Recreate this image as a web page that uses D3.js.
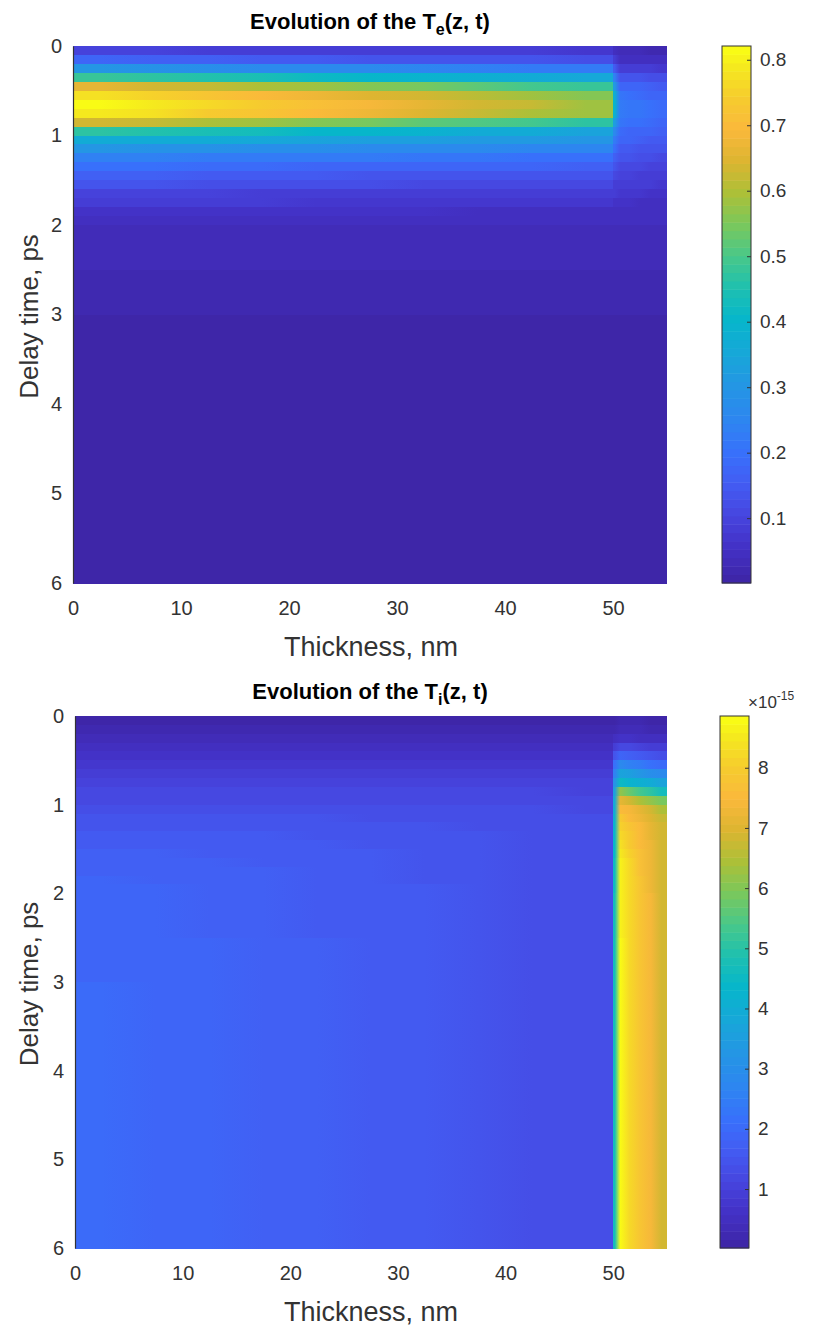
<!DOCTYPE html>
<html>
<head>
<meta charset="utf-8">
<script src="https://cdn.jsdelivr.net/npm/d3@7"></script>
<style>
  body { margin: 0; background: #fff; }
  text { font-family: "Liberation Sans", Arial, Helvetica, sans-serif; fill: #262626; }
</style>
</head>
<body>
<div id="vis"></div>
<script>
// time row edges (ps) and thickness column edges (nm)
var tEdges = [0, 0.1, 0.2, 0.3, 0.4, 0.5, 0.6, 0.7, 0.8, 0.9, 1.0, 1.1, 1.2, 1.3, 1.4, 1.5, 1.6, 1.7, 1.8, 1.9, 2.0, 2.5, 3, 4, 5, 6];
var zEdges = [0, 5, 10, 15, 20, 25, 30, 35, 40, 45, 50, 50.3, 51, 52, 53, 54, 55];
var layerEdge = 50;   // film / substrate interface

// electron temperature, one row per time slab
var teGrid = [
  [0.10,0.10,0.09,0.09,0.09,0.09,0.08,0.08,0.08,0.07, 0.05,0.03,0.03,0.03,0.02,0.02],
  [0.17,0.16,0.16,0.15,0.15,0.14,0.14,0.13,0.13,0.12, 0.08,0.05,0.05,0.04,0.04,0.04],
  [0.30,0.29,0.28,0.27,0.26,0.26,0.25,0.24,0.23,0.22, 0.15,0.09,0.09,0.08,0.08,0.07],
  [0.48,0.47,0.45,0.44,0.42,0.41,0.39,0.38,0.36,0.35, 0.24,0.14,0.13,0.13,0.12,0.12],
  [0.66,0.64,0.62,0.60,0.58,0.56,0.54,0.52,0.50,0.48, 0.32,0.18,0.17,0.17,0.16,0.15],
  [0.77,0.75,0.72,0.70,0.68,0.65,0.63,0.61,0.59,0.56, 0.38,0.21,0.20,0.19,0.18,0.18],
  [0.81,0.79,0.76,0.74,0.71,0.69,0.66,0.64,0.62,0.59, 0.40,0.22,0.21,0.21,0.20,0.19],
  [0.79,0.77,0.74,0.72,0.70,0.67,0.65,0.62,0.60,0.58, 0.39,0.22,0.21,0.21,0.20,0.19],
  [0.64,0.62,0.60,0.58,0.56,0.54,0.52,0.51,0.49,0.47, 0.33,0.21,0.20,0.20,0.19,0.18],
  [0.47,0.46,0.44,0.43,0.41,0.40,0.39,0.37,0.36,0.34, 0.26,0.19,0.18,0.18,0.17,0.16],
  [0.37,0.36,0.36,0.35,0.34,0.33,0.33,0.32,0.31,0.30, 0.23,0.17,0.17,0.16,0.15,0.15],
  [0.30,0.29,0.29,0.28,0.28,0.27,0.26,0.26,0.25,0.25, 0.20,0.15,0.15,0.14,0.14,0.13],
  [0.24,0.24,0.23,0.23,0.22,0.22,0.21,0.21,0.20,0.20, 0.16,0.13,0.13,0.12,0.12,0.11],
  [0.20,0.20,0.19,0.19,0.18,0.18,0.18,0.17,0.17,0.16, 0.13,0.11,0.11,0.11,0.10,0.10],
  [0.16,0.16,0.15,0.15,0.15,0.14,0.14,0.14,0.13,0.13, 0.11,0.10,0.10,0.09,0.09,0.09],
  [0.13,0.13,0.12,0.12,0.12,0.12,0.11,0.11,0.11,0.11, 0.09,0.08,0.08,0.08,0.08,0.07],
  [0.10,0.10,0.10,0.09,0.09,0.09,0.09,0.09,0.08,0.08, 0.08,0.07,0.07,0.07,0.06,0.06],
  [0.08,0.08,0.08,0.08,0.07,0.07,0.07,0.07,0.07,0.07, 0.06,0.06,0.06,0.05,0.05,0.05],
  [0.06,0.06,0.06,0.06,0.06,0.06,0.06,0.05,0.05,0.05, 0.05,0.05,0.05,0.05,0.04,0.04],
  [0.05,0.05,0.05,0.05,0.05,0.05,0.04,0.04,0.04,0.04, 0.04,0.04,0.04,0.04,0.04,0.04],
  [0.035,0.035,0.035,0.035,0.035,0.035,0.035,0.035,0.035,0.035, 0.03,0.03,0.03,0.03,0.03,0.03],
  [0.02,0.02,0.02,0.02,0.02,0.02,0.02,0.02,0.02,0.02, 0.02,0.02,0.02,0.02,0.02,0.02],
  [0.012,0.012,0.012,0.012,0.012,0.012,0.012,0.012,0.012,0.012, 0.012,0.012,0.012,0.012,0.012,0.012],
  [0.008,0.008,0.008,0.008,0.008,0.008,0.008,0.008,0.008,0.008, 0.008,0.008,0.008,0.008,0.008,0.008],
  [0.005,0.005,0.005,0.005,0.005,0.005,0.005,0.005,0.005,0.005, 0.005,0.005,0.005,0.005,0.005,0.005]
];

// lattice temperature in units of 1e-15
var tiGrid = [
  [0.10,0.10,0.10,0.10,0.10,0.10,0.10,0.10,0.10,0.10, 0.15,0.20,0.18,0.16,0.15,0.14],
  [0.20,0.20,0.20,0.20,0.20,0.20,0.20,0.20,0.20,0.20, 0.25,0.35,0.32,0.30,0.27,0.25],
  [0.35,0.35,0.35,0.35,0.35,0.35,0.35,0.35,0.35,0.35, 0.55,0.65,0.60,0.56,0.52,0.48],
  [0.50,0.50,0.50,0.50,0.50,0.50,0.50,0.50,0.50,0.50, 0.95,1.25,1.15,1.05,0.98,0.90],
  [0.65,0.65,0.65,0.65,0.65,0.65,0.65,0.65,0.65,0.65, 1.50,1.95,1.80,1.65,1.52,1.40],
  [0.80,0.80,0.80,0.80,0.80,0.80,0.80,0.80,0.80,0.80, 2.10,2.80,2.60,2.40,2.20,2.00],
  [0.93,0.93,0.93,0.93,0.93,0.93,0.93,0.93,0.92,0.92, 2.60,3.70,3.50,3.20,3.00,2.80],
  [1.04,1.04,1.04,1.04,1.04,1.04,1.04,1.03,1.03,1.02, 3.10,4.50,4.30,4.10,3.90,3.70],
  [1.15,1.15,1.15,1.15,1.15,1.15,1.14,1.14,1.13,1.12, 3.50,6.20,5.80,5.40,5.00,4.70],
  [1.25,1.25,1.25,1.25,1.25,1.24,1.24,1.23,1.22,1.20, 3.80,7.20,6.90,6.50,6.20,5.90],
  [1.35,1.35,1.35,1.34,1.34,1.33,1.32,1.30,1.28,1.25, 4.00,7.60,7.40,7.10,6.80,6.50],
  [1.44,1.44,1.43,1.42,1.41,1.40,1.38,1.36,1.32,1.28, 4.10,7.90,7.60,7.30,7.00,6.70],
  [1.52,1.51,1.50,1.49,1.47,1.45,1.42,1.39,1.35,1.30, 4.20,8.10,7.80,7.50,7.10,6.80],
  [1.59,1.58,1.56,1.54,1.52,1.49,1.46,1.42,1.37,1.31, 4.30,8.30,7.90,7.60,7.20,6.90],
  [1.65,1.63,1.61,1.58,1.56,1.52,1.48,1.44,1.38,1.31, 4.40,8.40,8.00,7.60,7.30,6.90],
  [1.70,1.68,1.65,1.62,1.59,1.55,1.50,1.45,1.39,1.31, 4.40,8.50,8.10,7.70,7.30,6.90],
  [1.75,1.72,1.69,1.65,1.61,1.57,1.52,1.46,1.39,1.31, 4.50,8.60,8.20,7.70,7.30,6.90],
  [1.79,1.76,1.72,1.68,1.63,1.58,1.53,1.46,1.39,1.31, 4.50,8.60,8.20,7.70,7.30,6.90],
  [1.83,1.79,1.75,1.70,1.65,1.59,1.53,1.47,1.39,1.31, 4.50,8.70,8.20,7.80,7.30,6.90],
  [1.86,1.82,1.77,1.72,1.66,1.60,1.54,1.47,1.39,1.31, 4.50,8.70,8.30,7.80,7.30,6.90],
  [1.90,1.85,1.79,1.73,1.67,1.61,1.54,1.47,1.39,1.31, 4.60,8.70,8.30,7.80,7.40,6.90],
  [1.95,1.89,1.82,1.75,1.69,1.62,1.54,1.47,1.39,1.31, 4.60,8.80,8.30,7.80,7.40,6.90],
  [1.98,1.91,1.84,1.76,1.70,1.62,1.54,1.47,1.39,1.31, 4.60,8.80,8.30,7.80,7.40,6.90],
  [2.00,1.93,1.85,1.77,1.70,1.62,1.54,1.47,1.39,1.31, 4.60,8.80,8.30,7.80,7.40,6.90],
  [2.01,1.93,1.85,1.77,1.70,1.62,1.54,1.47,1.39,1.31, 4.60,8.80,8.30,7.80,7.40,6.90]
];

var xTicks = [0, 10, 20, 30, 40, 50];
var yTicks = [0, 1, 2, 3, 4, 5, 6];
var teLimits = [0.001, 0.821];
var tiLimits = [0.02, 8.86];
var teBarTicks = [0.1, 0.2, 0.3, 0.4, 0.5, 0.6, 0.7, 0.8];
var tiBarTicks = [1, 2, 3, 4, 5, 6, 7, 8];

// parula-like colour stops
var parulaPos = [0, 0.06, 0.12, 0.18, 0.24, 0.30, 0.365, 0.43, 0.49, 0.55, 0.61, 0.67, 0.73, 0.79, 0.85, 0.91, 0.97, 1];
var parulaCol = ["#3e26a8", "#4331c6", "#4645df", "#435cf3", "#3871fb", "#2d86f0", "#2496e4", "#16a8d8", "#06b6cb",
                 "#1ec0b0", "#48c88a", "#7ac85c", "#acc038", "#dcb530", "#fab83c", "#f6cc2e", "#f5ea1e", "#f9fb15"];
var parula = d3.scaleLinear().domain(parulaPos).range(parulaCol).interpolate(d3.interpolateRgb);
var nLevels = 64;

function levelColor(v, lim) {
  var k = Math.floor((v - lim[0]) / (lim[1] - lim[0]) * nLevels);
  k = Math.max(0, Math.min(nLevels - 1, k));
  return parula(k / (nLevels - 1));
}

var svg = d3.select("#vis").append("svg")
  .attr("width", 814)
  .attr("height", 1329);
var defs = svg.append("defs");

function drawPanel(opt) {
  var x = d3.scaleLinear().domain([0, 55]).range([opt.left, 667]);
  var y = d3.scaleLinear().domain([0, 6]).range([opt.top, opt.bottom]);
  var g = svg.append("g");
  var x0 = x(0), span = x(55) - x(0);

  // one row per time slab, shaded across thickness (sharp at the interface)
  opt.grid.forEach(function(row, i) {
    var id = opt.name + "_row" + i;
    var stops = [];
    row.forEach(function(v, j) {
      var zc = (zEdges[j] + zEdges[j + 1]) / 2;
      var c = levelColor(v, opt.lim);
      if (zEdges[j] === layerEdge) stops.push({z: layerEdge, c: c});
      stops.push({z: zc, c: c});
      if (zEdges[j + 1] === layerEdge) stops.push({z: layerEdge, c: c});
    });
    var grad = defs.append("linearGradient")
      .attr("id", id)
      .attr("gradientUnits", "userSpaceOnUse")
      .attr("x1", x0).attr("x2", x0 + span).attr("y1", 0).attr("y2", 0);
    grad.selectAll("stop").data(stops).enter().append("stop")
      .attr("offset", function(s) { return (x(s.z) - x0) / span; })
      .attr("stop-color", function(s) { return s.c; });
  });

  g.selectAll("rect.row").data(opt.grid).enter().append("rect")
    .attr("class", "row")
    .attr("x", x(0))
    .attr("width", span)
    .attr("y", function(d, i) { return y(tEdges[i]); })
    .attr("height", function(d, i) { return y(tEdges[i + 1]) - y(tEdges[i]) + 0.5; })
    .attr("fill", function(d, i) { return "url(#" + opt.name + "_row" + i + ")"; })
    .attr("shape-rendering", "crispEdges");

  // axes
  var ax = g.append("g")
    .attr("transform", "translate(0," + opt.bottom + ")")
    .call(d3.axisBottom(x).tickValues(xTicks).tickSize(0).tickPadding(18).tickFormat(d3.format("d")));
  ax.select(".domain").remove();
  ax.selectAll("text").attr("font-size", 20).style("fill", "#333");

  var ay = g.append("g")
    .attr("transform", "translate(" + opt.left + ",0)")
    .call(d3.axisLeft(y).tickValues(yTicks).tickSize(0).tickPadding(11).tickFormat(d3.format("d")));
  ay.select(".domain").attr("stroke", "#333").attr("stroke-width", 1.2);
  ay.selectAll("text").attr("font-size", 20).style("fill", "#333");

  // labels
  g.append("text")
    .attr("x", 371).attr("y", opt.bottom + 73)
    .attr("text-anchor", "middle").attr("font-size", 27).style("fill", "#333")
    .text("Thickness, nm");

  g.append("text")
    .attr("transform", "translate(38," + ((opt.top + opt.bottom) / 2 + 2) + ") rotate(-90)")
    .attr("text-anchor", "middle").attr("font-size", 26).style("fill", "#333")
    .text("Delay time, ps");

  var title = g.append("text")
    .attr("x", 370).attr("y", opt.top - 17)
    .attr("text-anchor", "middle").attr("font-size", 22).attr("font-weight", "bold")
    .style("fill", "#000");
  title.append("tspan").text("Evolution of the T");
  title.append("tspan").attr("dy", 6).attr("font-size", 16).text(opt.sub);
  title.append("tspan").attr("dy", -6).text("(z, t)");

  // colorbar
  var cb = d3.scaleLinear().domain(opt.lim).range([opt.bottom, opt.top]);
  var levels = d3.range(nLevels);
  var step = (opt.lim[1] - opt.lim[0]) / nLevels;
  g.selectAll("rect.cb").data(levels).enter().append("rect")
    .attr("class", "cb")
    .attr("x", opt.cbx)
    .attr("width", 29)
    .attr("y", function(k) { return cb(opt.lim[0] + (k + 1) * step); })
    .attr("height", function(k) { return cb(opt.lim[0] + k * step) - cb(opt.lim[0] + (k + 1) * step) + 0.5; })
    .attr("fill", function(k) { return parula(k / (nLevels - 1)); });
  g.append("rect")
    .attr("x", opt.cbx).attr("y", opt.top)
    .attr("width", 29).attr("height", opt.bottom - opt.top)
    .attr("fill", "none").attr("stroke", "#333").attr("stroke-width", 1);

  var cax = g.append("g")
    .attr("transform", "translate(" + (opt.cbx + 29) + ",0)")
    .call(d3.axisRight(cb).tickValues(opt.barTicks).tickSizeInner(-4).tickSizeOuter(0).tickPadding(9));
  cax.select(".domain").remove();
  cax.selectAll("line").attr("stroke", "#333");
  cax.selectAll("text").attr("font-size", 19).style("fill", "#333");
}

drawPanel({name: "te", grid: teGrid, lim: teLimits, barTicks: teBarTicks, sub: "e", top: 46, bottom: 583, left: 73, cbx: 722});
drawPanel({name: "ti", grid: tiGrid, lim: tiLimits, barTicks: tiBarTicks, sub: "i", top: 716, bottom: 1248, left: 75, cbx: 720});

// exponent label for the lower colorbar
var expo = svg.append("text")
  .attr("x", 748).attr("y", 708)
  .attr("font-size", 17).style("fill", "#333");
expo.append("tspan").text("\u00d710");
expo.append("tspan").attr("dy", -8).attr("font-size", 12).text("-15");
</script>
</body>
</html>
